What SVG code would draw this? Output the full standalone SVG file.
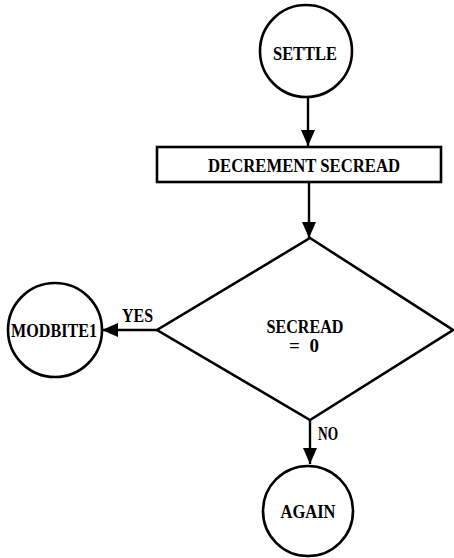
<svg xmlns="http://www.w3.org/2000/svg" width="454" height="558" viewBox="0 0 454 558">
  <style>
    .shape { fill: #ffffff; stroke: #000000; stroke-width: 2.6; }
    .edge { fill: none; stroke: #000000; stroke-width: 2.4; }
    .lbl { font-family: "Liberation Serif", "DejaVu Serif", serif; font-weight: bold; font-size: 19px; fill: #000000; }
  </style>
  <defs>
    <marker id="arrow" viewBox="0 0 16 14" refX="16" refY="7" markerWidth="16" markerHeight="14" markerUnits="userSpaceOnUse" orient="auto">
      <path d="M0,0 L16,7 L0,14 Z" fill="#000000"/>
    </marker>
  </defs>
  <rect width="454" height="558" fill="#ffffff"/>

  <g id="connectors">
    <line class="edge" x1="308" y1="97" x2="308" y2="146" marker-end="url(#arrow)"/>
    <line class="edge" x1="309" y1="182" x2="309" y2="238" marker-end="url(#arrow)"/>
    <line class="edge" x1="157" y1="330" x2="102" y2="330" marker-end="url(#arrow)"/>
    <line class="edge" x1="310" y1="420" x2="310" y2="464" marker-end="url(#arrow)"/>
    <text class="lbl" x="122" y="322" textLength="31" lengthAdjust="spacingAndGlyphs">YES</text>
    <text class="lbl" x="318" y="440" textLength="20" lengthAdjust="spacingAndGlyphs">NO</text>
  </g>

  <g id="settle">
    <circle class="shape" cx="306" cy="51" r="46"/>
    <text class="lbl" x="305" y="60" text-anchor="middle" textLength="64" lengthAdjust="spacingAndGlyphs">SETTLE</text>
  </g>

  <g id="decrement">
    <rect class="shape" x="157" y="147" width="284" height="35"/>
    <text class="lbl" x="304" y="172" text-anchor="middle" textLength="192" lengthAdjust="spacingAndGlyphs">DECREMENT SECREAD</text>
  </g>

  <g id="test">
    <polygon class="shape" points="310,238 453,330 310,420 157,330" stroke-width="3"/>
    <text class="lbl" x="305" y="333" text-anchor="middle" textLength="77" lengthAdjust="spacingAndGlyphs">SECREAD</text>
    <text class="lbl" x="304" y="352" text-anchor="middle" textLength="30" lengthAdjust="spacing">= 0</text>
  </g>

  <g id="modbite1">
    <circle class="shape" cx="55" cy="330" r="47"/>
    <text class="lbl" x="54" y="337" text-anchor="middle" textLength="86" lengthAdjust="spacingAndGlyphs">MODBITE1</text>
  </g>

  <g id="again">
    <circle class="shape" cx="308" cy="511" r="45"/>
    <text class="lbl" x="308" y="518" text-anchor="middle" textLength="55" lengthAdjust="spacingAndGlyphs">AGAIN</text>
  </g>
</svg>
